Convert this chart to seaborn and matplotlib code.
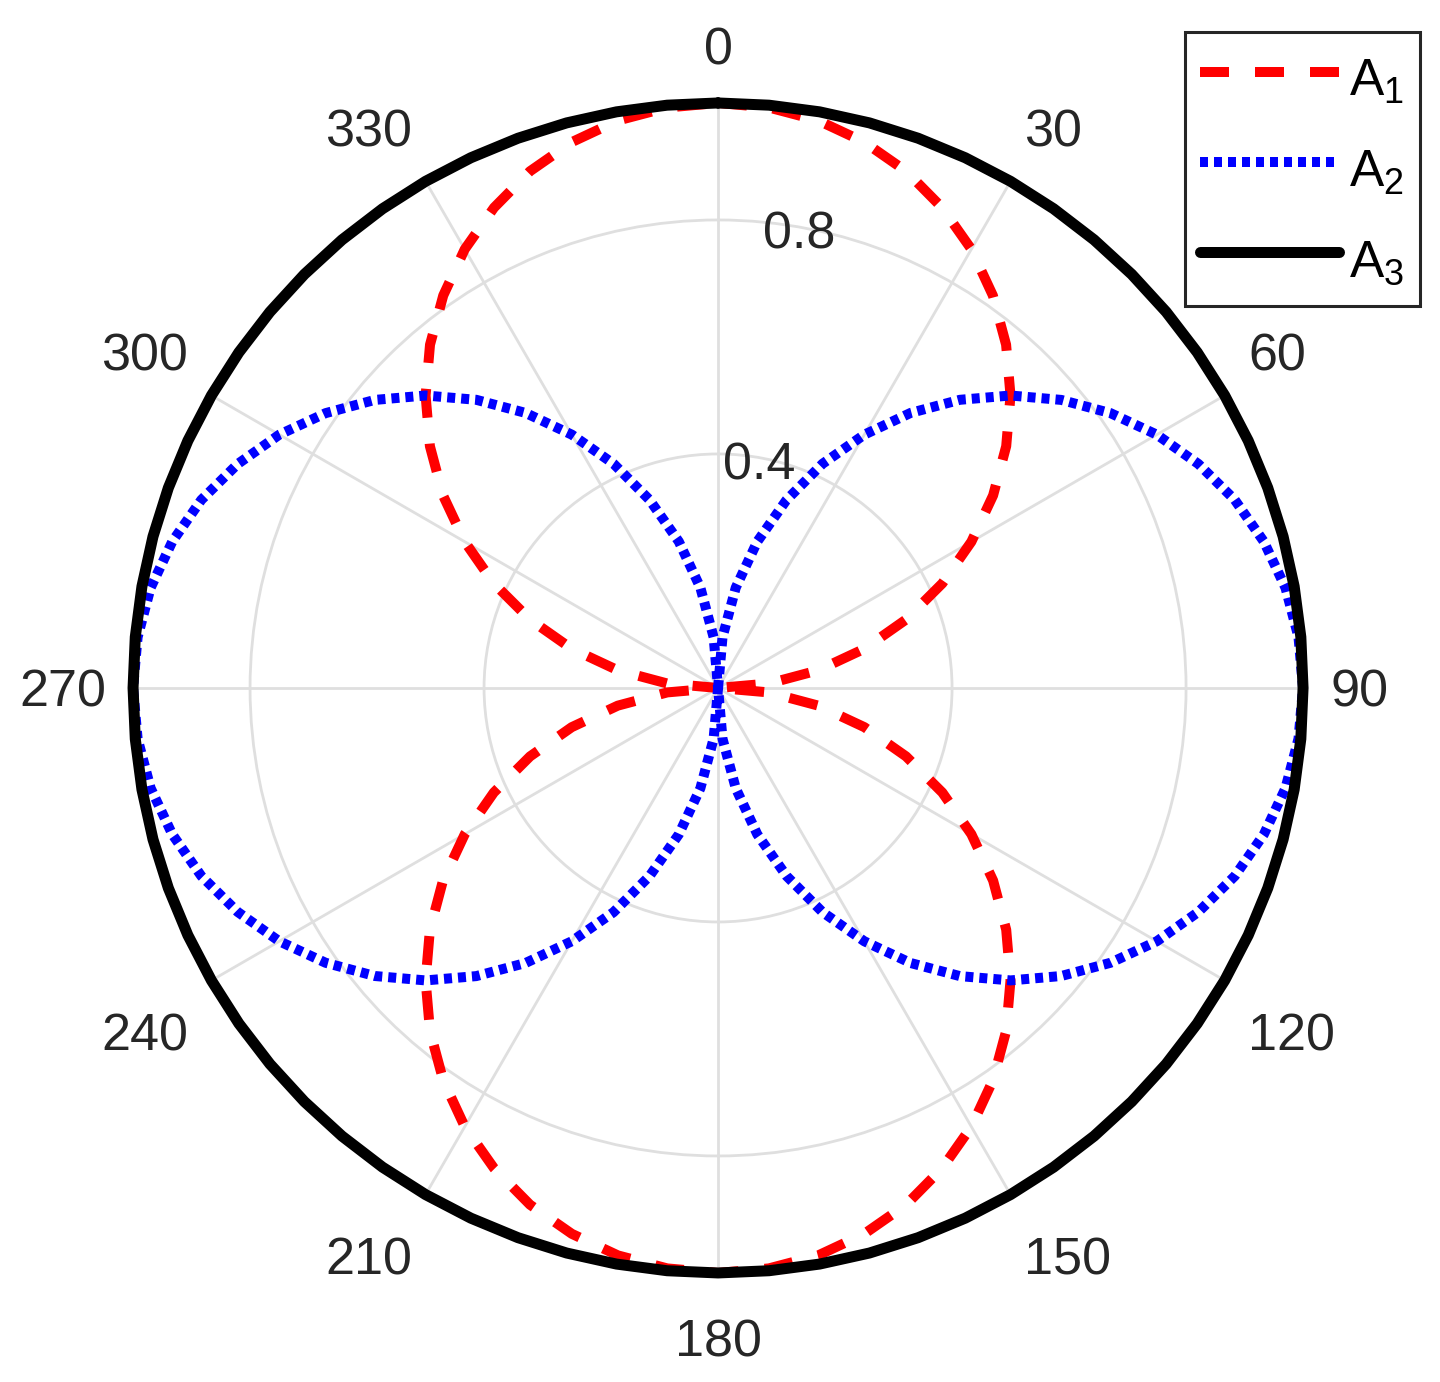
import seaborn as sns
import matplotlib.pyplot as plt
import matplotlib.transforms as mtransforms
import pandas as pd
import numpy as np

# angles (deg) for one quadrant, read every 5 degrees
quad_deg = [0, 5, 10, 15, 20, 25, 30, 35, 40, 45, 50, 55, 60, 65, 70, 75, 80, 85, 90]
# A1 radius over the first quadrant (0 -> 90)
a1_quad = [1.00, 0.996, 0.985, 0.966, 0.940, 0.906, 0.866, 0.819, 0.766, 0.707,
           0.643, 0.574, 0.500, 0.423, 0.342, 0.259, 0.174, 0.087, 0.00]
# A2 radius over the first quadrant (0 -> 90)
a2_quad = [0.00, 0.087, 0.174, 0.259, 0.342, 0.423, 0.500, 0.574, 0.643, 0.707,
           0.766, 0.819, 0.866, 0.906, 0.940, 0.966, 0.985, 0.996, 1.00]
theta_ticks = [0, 30, 60, 90, 120, 150, 180, 210, 240, 270, 300, 330]
r_ticks = [0.4, 0.8]
r_labels = ['0.4', '0.8']
series_names = [r'$A_1$', r'$A_2$', r'$A_3$']

# the curves are symmetric quadrant to quadrant: mirror the read values round the circle
def full_circle(q):
    return q + q[::-1][1:] + q[1:] + q[::-1][1:]

deg = quad_deg + [180 - d for d in quad_deg[::-1]][1:] + [180 + d for d in quad_deg][1:] + [360 - d for d in quad_deg[::-1]][1:]
a1 = full_circle(a1_quad)
a2 = full_circle(a2_quad)
a3 = [1.0] * len(deg)

df = pd.DataFrame({'theta': np.deg2rad(deg), 'A1': a1, 'A2': a2, 'A3': a3})

sns.set_theme(style='white')
plt.rcParams['font.family'] = ['Liberation Sans', 'DejaVu Sans']
plt.rcParams['mathtext.default'] = 'regular'
txt = '#262626'

fig = plt.figure(figsize=(14.4, 13.82), dpi=100)
ax = fig.add_axes([0.0924, 0.0789, 0.8125, 0.8466], projection='polar')
ax.set_theta_zero_location('N')
ax.set_theta_direction(-1)

lw = 7.2
sns.lineplot(data=df, x='theta', y='A1', ax=ax, color='#ff0000', lw=lw,
             linestyle=(0, (2.9, 2.6)), label=series_names[0], clip_on=False, zorder=3)
sns.lineplot(data=df, x='theta', y='A2', ax=ax, color='#0000ff', lw=lw,
             linestyle=(0, (0.8, 0.6)), dash_capstyle='butt', label=series_names[1], clip_on=False, zorder=3)
sns.lineplot(data=df, x='theta', y='A3', ax=ax, color='black', lw=lw * 1.1,
             label=series_names[2], clip_on=False, zorder=4)

ax.set_xlabel('')
ax.set_ylabel('')
ax.set_ylim(0, 1)
ax.set_thetagrids(theta_ticks, [str(t) for t in theta_ticks])
ax.set_rgrids(r_ticks, r_labels)
ax.set_rlabel_position(10)
ax.grid(True, color='#dfdfdf', lw=2)
ax.spines['polar'].set_color('#dfdfdf')
ax.spines['polar'].set_linewidth(2)
ax.tick_params(axis='x', labelsize=37.5, colors=txt, pad=6.5)
ax.tick_params(axis='y', labelsize=37.5, colors=txt)

# theta labels anchored on the side facing the circle
for t, lab in zip(theta_ticks, ax.get_xticklabels()):
    s, c = np.sin(np.deg2rad(t)), np.cos(np.deg2rad(t))
    lab.set_ha('left' if s > 0.01 else ('right' if s < -0.01 else 'center'))
    lab.set_va('bottom' if c > 0.01 else ('top' if c < -0.01 else 'center'))
    dy = -18 if c < -0.01 else (-5 if abs(c) <= 0.01 else 0)
    lab.set_transform(lab.get_transform() + mtransforms.ScaledTranslation(0, dy / 100, fig.dpi_scale_trans))

shift = mtransforms.ScaledTranslation(0, -8 / 100, fig.dpi_scale_trans)
for lab in ax.get_yticklabels():
    lab.set_ha('center')
    lab.set_va('center')
    lab.set_transform(lab.get_transform() + shift)

leg = ax.legend(loc='upper right', bbox_to_anchor=(1420 / 1440, 1 - 32 / 1382),
                bbox_transform=fig.transFigure, fontsize=37, frameon=True,
                fancybox=False, edgecolor=txt, framealpha=1,
                handlelength=2.7, handletextpad=0.2, borderpad=0.3,
                handleheight=1.5, labelspacing=0.54, borderaxespad=0)
leg.get_frame().set_linewidth(2.2)
for t in leg.get_texts():
    t.set_color('black')

fig.savefig('out.png', dpi=100)
